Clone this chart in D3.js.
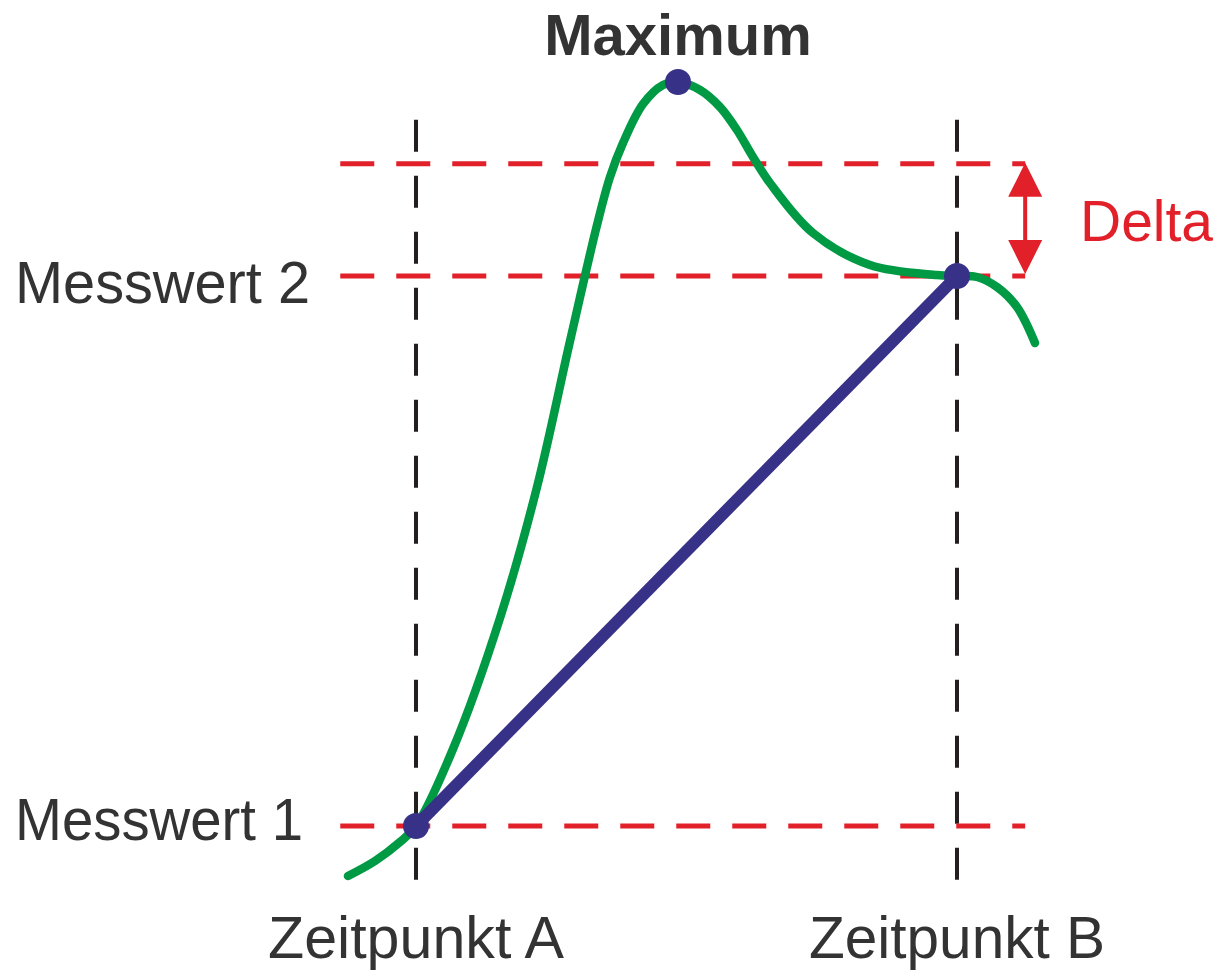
<!DOCTYPE html>
<html>
<head>
<meta charset="utf-8">
<script src="https://cdn.jsdelivr.net/npm/d3@7"></script>
<style>
  body { margin: 0; background: #fff; }
  svg { display: block; font-family: "Liberation Sans", Arial, sans-serif; }
</style>
</head>
<body>
<div id="chart"></div>
<script>
// Time axis (A = 0, B = 10) and value axis (Messwert 1 = 0, Messwert 2 = 10)
const timeLabels = ['Zeitpunkt A', 'Zeitpunkt B'];
const timeValues = [0, 10];
const levelLabels = ['Messwert 1', 'Messwert 2'];
const levelValues = [0, 10];
const deltaLevel = 12.04;

const curveT = [-1.257, -0.758, -0.296, 0, 0.684, 1.553, 2.237, 2.847, 3.346, 3.586, 3.826, 4.196, 4.566, 4.843,
  5.250, 5.619, 5.933, 6.229, 6.543, 7.338, 8.392, 9.630, 10, 10.370, 10.739, 11.109, 11.442];
const curveV = [-0.909, -0.636, -0.291, 0, 1.400, 3.782, 6.164, 8.818, 10.927, 11.800, 12.418, 13.127, 13.473, 13.527,
  13.382, 13.073, 12.655, 12.164, 11.691, 10.782, 10.200, 10.018, 10, 9.982, 9.800, 9.436, 8.782];

// Extent of the guide lines (data units)
const guideT = [-1.40, 11.26];
const guideV = [-0.98, 12.84];

const colors = {
  red: '#e2202a',
  green: '#009a44',
  blue: '#373187',
  dash: '#231f20',
  text: '#333333'
};

const width = 1219, height = 970;

const x = d3.scaleLinear().domain([0, 10]).range([416, 957]);
const y = d3.scaleLinear().domain([0, 10]).range([826, 276]);

const svg = d3.select('#chart').append('svg')
  .attr('width', width)
  .attr('height', height);

svg.append('rect').attr('width', width).attr('height', height).attr('fill', '#fff');

// vertical time guides
svg.append('g').selectAll('line')
  .data(timeValues)
  .join('line')
  .attr('x1', d => x(d)).attr('x2', d => x(d))
  .attr('y1', y(guideV[1])).attr('y2', y(guideV[0]))
  .attr('stroke', colors.dash)
  .attr('stroke-width', 4)
  .attr('stroke-dasharray', '32 24');

// horizontal level guides
svg.append('g').selectAll('line')
  .data(levelValues.concat([deltaLevel]))
  .join('line')
  .attr('x1', x(guideT[0])).attr('x2', x(guideT[1]))
  .attr('y1', d => y(d)).attr('y2', d => y(d))
  .attr('stroke', colors.red)
  .attr('stroke-width', 5)
  .attr('stroke-dasharray', '34 22');

// green curve
const curveData = curveT.map((t, i) => [t, curveV[i]]);
svg.append('path')
  .datum(curveData)
  .attr('fill', 'none')
  .attr('stroke', colors.green)
  .attr('stroke-width', 8.5)
  .attr('stroke-linecap', 'round')
  .attr('d', d3.line().x(d => x(d[0])).y(d => y(d[1])).curve(d3.curveCatmullRom.alpha(0.5)));

// straight line between the two measurements
svg.append('line')
  .attr('x1', x(timeValues[0])).attr('y1', y(levelValues[0]))
  .attr('x2', x(timeValues[1])).attr('y2', y(levelValues[1]))
  .attr('stroke', colors.blue)
  .attr('stroke-width', 12);

// dots: both measurements and the curve maximum
const iMax = d3.maxIndex(curveV);
const dots = [[timeValues[0], levelValues[0]], [curveT[iMax], curveV[iMax]], [timeValues[1], levelValues[1]]];
svg.append('g').selectAll('circle')
  .data(dots)
  .join('circle')
  .attr('cx', d => x(d[0]))
  .attr('cy', d => y(d[1]))
  .attr('r', 13)
  .attr('fill', colors.blue);

// delta arrow
const ax = x(guideT[1]);
const yTop = y(deltaLevel) - 1, yBot = y(levelValues[1]) - 2;
const head = 34, half = 17;
const arrow = svg.append('g').attr('fill', colors.red);
arrow.append('line')
  .attr('x1', ax).attr('x2', ax)
  .attr('y1', yTop + head - 2).attr('y2', yBot - head + 2)
  .attr('stroke', colors.red)
  .attr('stroke-width', 4);
arrow.append('path')
  .attr('d', `M${ax},${yTop}L${ax + half},${yTop + head}L${ax - half},${yTop + head}Z`);
arrow.append('path')
  .attr('d', `M${ax},${yBot}L${ax + half},${yBot - head}L${ax - half},${yBot - head}Z`);

// labels
svg.append('text')
  .attr('x', 1080).attr('y', y(deltaLevel) + 77)
  .attr('font-size', 58)
  .attr('fill', colors.red)
  .attr('textLength', 133)
  .attr('lengthAdjust', 'spacingAndGlyphs')
  .text('Delta');

svg.append('g').selectAll('text')
  .data(levelLabels)
  .join('text')
  .attr('x', 15)
  .attr('y', (d, i) => y(levelValues[i]) + (i === 0 ? 14 : 27))
  .attr('font-size', 60)
  .attr('fill', colors.text)
  .attr('textLength', (d, i) => i === 0 ? 288 : 295)
  .attr('lengthAdjust', 'spacingAndGlyphs')
  .text(d => d);

svg.append('g').selectAll('text')
  .data(timeLabels)
  .join('text')
  .attr('x', (d, i) => x(timeValues[i]) - 148)
  .attr('y', 958)
  .attr('font-size', 60)
  .attr('fill', colors.text)
  .attr('textLength', 296)
  .attr('lengthAdjust', 'spacingAndGlyphs')
  .text(d => d);

svg.append('text')
  .attr('x', x(curveT[iMax]))
  .attr('y', 55)
  .attr('text-anchor', 'middle')
  .attr('font-size', 58)
  .attr('font-weight', 'bold')
  .attr('fill', colors.text)
  .text('Maximum');
</script>
</body>
</html>
